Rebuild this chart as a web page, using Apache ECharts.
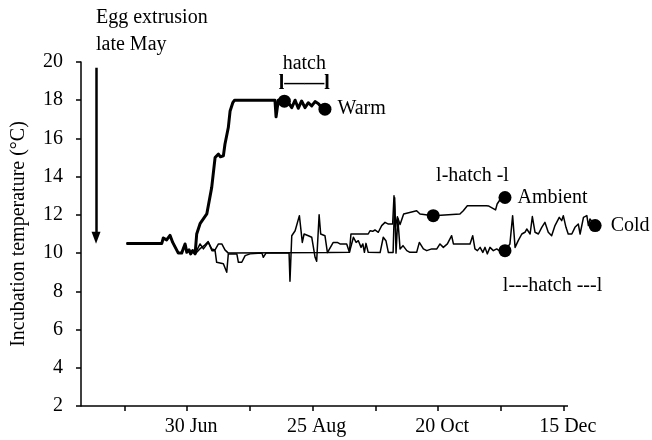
<!DOCTYPE html>
<html>
<head>
<meta charset="utf-8">
<script src="https://cdn.jsdelivr.net/npm/echarts@6/dist/echarts.min.js"></script>
<style>
  html, body { margin: 0; padding: 0; background: #fff; }
  #chart { width: 652px; height: 440px; }
</style>
</head>
<body>
<div id="chart"></div>
<script>
// x = day of year, y = incubation temperature (°C)
const tickDays = [153, 181, 209, 237, 265, 293, 321, 349];
const labelDays = [181, 237, 293, 349];
const labelTexts = ['30 Jun', '25 Aug', '20 Oct', '15 Dec'];

// drawn extent of the time axis (the cold record runs on past its end)
const axisStartDay = 133.7;
const axisEndDay = 350.9;

// shared start before the treatments diverge
const startSegment = [
  [154, 10.5], [169.7, 10.5], [170.4, 10.79], [171.9, 10.69], [173.4, 10.93], [174.6, 10.56],
  [177.1, 10.0], [178.6, 10.0], [180.1, 10.48], [180.9, 10.04], [181.9, 10.17], [182.6, 9.96],
  [183.5, 10.13], [184.6, 9.96]
];

const warm = [
  [185.3, 11.0], [186.8, 11.54], [189.8, 12.05], [192.0, 13.44], [193.5, 15.0], [195.0, 15.18],
  [195.9, 15.04], [197.2, 15.09], [197.9, 15.7], [199.4, 16.57], [200.2, 17.44], [201.4, 17.87],
  [202.2, 18.0], [220.2, 18.0], [220.7, 17.13], [221.7, 18.0], [224.4, 17.95], [226.2, 17.87],
  [227.7, 17.61], [229.2, 18.0], [230.6, 17.58], [232.1, 17.96], [233.6, 17.61], [235.1, 17.87],
  [236.6, 17.7], [238.1, 17.93], [239.6, 17.82], [241.1, 17.61], [242.5, 17.53]
];

const ambient = [
  [185.3, 10.13], [186.8, 10.48], [188.3, 10.22], [190.5, 10.56], [192.0, 10.22], [193.5, 10.17],
  [195.0, 10.48], [196.5, 10.48], [197.9, 10.17], [199.4, 10.0], [243.6, 10.03], [246.2, 10.56],
  [248.0, 10.56], [249.2, 10.48], [252.2, 10.48], [253.4, 10.04], [254.1, 11.0], [261.8, 11.0],
  [262.6, 11.17], [263.8, 11.14], [264.8, 11.21], [266.3, 11.09], [267.8, 11.44], [269.3, 11.61],
  [270.8, 11.52], [272.7, 11.52], [273.3, 13.0], [274.0, 11.4], [274.8, 11.9], [276.0, 11.5],
  [277.6, 12.05], [283.4, 12.22], [284.9, 12.05], [290.8, 11.96], [302.7, 12.05], [304.2, 12.22],
  [306.0, 12.48], [306.6, 12.4], [307.2, 12.48], [307.8, 12.4], [308.4, 12.48], [309.0, 12.4],
  [309.6, 12.48], [310.2, 12.4], [310.8, 12.48], [311.4, 12.4], [312.0, 12.48], [312.6, 12.4],
  [313.2, 12.48], [313.8, 12.4], [314.4, 12.48], [315.0, 12.4], [315.6, 12.46], [316.3, 12.43],
  [318.6, 12.26], [319.3, 12.57], [320.8, 12.83], [322.8, 12.91]
];

const cold = [
  [185.3, 10.03], [186.8, 10.23], [188.6, 10.39], [190.4, 10.6], [192.1, 10.13], [193.5, 10.13],
  [194.2, 9.52], [197.2, 9.44], [198.7, 9.0], [199.4, 9.96], [203.2, 9.96], [203.9, 9.52],
  [205.4, 9.52], [206.9, 9.87], [207.6, 9.78], [209.1, 9.96], [214.4, 10.0], [215.0, 9.78],
  [216.2, 10.0], [222.5, 10.0], [223.2, 10.1], [223.8, 10.0], [226.5, 10.0], [226.9, 8.53],
  [227.7, 10.91], [229.2, 11.17], [231.1, 11.96], [232.4, 10.56], [233.2, 11.0], [235.1, 10.91],
  [236.6, 10.83], [238.1, 9.78], [238.8, 9.57], [239.9, 12.01], [240.6, 11.0], [242.5, 10.91],
  [243.6, 10.03], [253.4, 10.04], [254.4, 10.48], [255.2, 10.83], [256.4, 10.56], [257.4, 10.65],
  [258.6, 10.3], [259.4, 10.48], [260.1, 10.04], [260.8, 10.51], [261.8, 10.04], [267.1, 10.03],
  [268.5, 10.83], [269.7, 10.65], [270.8, 10.03], [272.9, 10.03], [273.6, 12.9], [274.2, 10.0],
  [275.0, 11.8], [276.0, 10.22], [277.3, 10.39], [279.0, 10.13], [280.4, 10.04], [283.4, 10.04],
  [284.6, 10.56], [286.4, 10.22], [287.9, 10.13], [290.1, 10.22], [292.4, 10.22], [293.8, 10.48],
  [295.3, 10.3], [297.1, 10.48], [299.0, 10.91], [299.8, 10.48], [307.2, 10.48], [308.4, 10.91],
  [309.4, 10.22], [310.5, 10.13], [311.7, 10.3], [312.9, 10.04], [313.9, 10.3], [314.9, 9.96],
  [316.1, 10.3], [317.6, 10.13], [319.1, 10.22], [321.3, 10.04], [322.8, 10.13], [325.0, 10.48],
  [326.2, 11.96], [327.3, 10.3], [328.7, 10.65], [330.3, 11.0], [331.7, 11.09], [332.5, 11.26],
  [334.0, 11.0], [335.0, 11.91], [336.2, 11.09], [337.7, 11.0], [339.2, 11.35], [340.6, 11.61],
  [342.1, 11.09], [343.6, 10.91], [345.1, 11.44], [347.0, 11.87], [348.1, 11.7], [348.8, 11.96],
  [350.0, 11.35], [351.0, 11.0], [352.6, 11.0], [354.0, 11.35], [355.5, 11.52], [356.3, 11.0],
  [357.8, 11.87], [359.3, 11.96], [360.0, 11.44], [360.7, 11.79], [363.0, 11.44]
];

// hatching windows: start and end of each
const warmHatch = [[224.4, 17.95], [242.5, 17.53]];
const ambientHatch = [[290.8, 11.96], [322.8, 12.91]];
const coldHatch = [[322.8, 10.13], [363.0, 11.44]];

// hatch-window notes
const notes = [
  { name: 'hatch', value: [233.3, 19.9] },
  { name: 'l\u2014\u2014l', value: [233.3, 18.85], bold: true },
  { name: 'l-hatch -l', value: [308.3, 14.05] },
  { name: 'l---hatch ---l', value: [344.0, 8.3] }
];

// egg-extrusion arrow, top and bottom
const extrusionArrow = [[140.4, 19.7], [140.4, 10.8]];

const FONT = '"Liberation Serif", "Times New Roman", serif';
const BLACK = '#000';

function dotSeries(points, endLabel, gap) {
  return {
    type: 'scatter',
    symbol: 'circle',
    symbolSize: 13,
    clip: false,
    silent: true,
    itemStyle: { color: BLACK, opacity: 1 },
    data: points.map((p, i) => ({
      value: p,
      label: i === points.length - 1 ? {
        show: true, position: 'right', distance: gap, formatter: endLabel,
        color: BLACK, fontSize: 20, fontFamily: FONT
      } : { show: false }
    })),
    z: 5
  };
}

function lineSeries(name, data, width) {
  return {
    name: name,
    type: 'line',
    data: startSegment.concat(data),
    symbol: 'none',
    clip: false,
    silent: true,
    lineStyle: { color: BLACK, width: width, join: 'round' },
    z: 3
  };
}

const chart = echarts.init(document.getElementById('chart'), null, { renderer: 'canvas' });

// the arrow and the visible time-axis line ride on the warm series
const warmLine = lineSeries('Warm', warm, 3);
warmLine.markLine = {
  silent: true,
  symbol: ['none', 'none'],
  label: { show: false },
  animation: false,
  data: [
    [
      { coord: extrusionArrow[0], symbol: 'none' },
      { coord: extrusionArrow[1], symbol: 'triangle', symbolSize: [9, 12],
        lineStyle: { color: BLACK, width: 2.5, type: 'solid' } }
    ],
    [
      { coord: [axisStartDay, 2], symbol: 'none' },
      { coord: [axisEndDay, 2], symbol: 'none',
        lineStyle: { color: BLACK, width: 1.5, type: 'solid' } }
    ]
  ],
  lineStyle: { color: BLACK, type: 'solid' }
};

// the plot scale runs a little past 15 Dec so the cold record can finish
const scaleEndDay = 365;
const pxPerDay = 487 / (axisEndDay - axisStartDay);
const gridRight = 652 - 81 - (scaleEndDay - axisStartDay) * pxPerDay;

chart.setOption({
  animation: false,
  backgroundColor: '#fff',
  grid: { left: 81, right: gridRight, top: 62, bottom: 34, outerBoundsMode: 'none', containLabel: false },
  xAxis: {
    type: 'value',
    min: axisStartDay,
    max: scaleEndDay,
    axisLine: { show: false },
    axisTick: { show: true, length: 5, customValues: tickDays, lineStyle: { color: BLACK, width: 1.5 } },
    axisLabel: {
      customValues: labelDays,
      formatter: v => labelTexts[labelDays.indexOf(v)] || '',
      color: BLACK, fontSize: 20, fontFamily: FONT, margin: 11,
      padding: [0, 0, 0, 8]
    },
    splitLine: { show: false }
  },
  yAxis: {
    type: 'value',
    min: 2,
    max: 20,
    interval: 2,
    name: 'Incubation temperature (\u00B0C)',
    nameLocation: 'middle',
    nameRotate: 90,
    nameGap: 52,
    nameTextStyle: { color: BLACK, fontSize: 20, fontFamily: FONT },
    axisLine: { show: true, lineStyle: { color: BLACK, width: 1.5 } },
    axisTick: { show: true, length: 5, lineStyle: { color: BLACK, width: 1.5 } },
    axisLabel: { color: BLACK, fontSize: 20, fontFamily: FONT, margin: 18 },
    splitLine: { show: false }
  },
  graphic: [{
    type: 'text',
    left: 96,
    top: 4,
    style: {
      text: 'Egg extrusion\nlate May',
      fill: BLACK,
      fontSize: 20,
      fontFamily: FONT,
      lineHeight: 27
    }
  }],
  series: [
    lineSeries('Cold', cold, 1.5),
    lineSeries('Ambient', ambient, 1.5),
    warmLine,
    dotSeries(warmHatch, 'Warm', 6),
    dotSeries(ambientHatch, 'Ambient', 6),
    dotSeries(coldHatch, 'Cold', 9),
    {
      type: 'scatter',
      symbolSize: 1,
      clip: false,
      silent: true,
      itemStyle: { color: 'rgba(0,0,0,0)', opacity: 1 },
      label: {
        show: true, position: 'inside', formatter: p => p.name,
        color: BLACK, fontSize: 20, fontFamily: FONT
      },
      data: notes.map(n => ({
        name: n.name,
        value: n.value,
        label: n.bold ? { fontWeight: 'bold' } : {}
      }))
    }
  ]
});
</script>
</body>
</html>
